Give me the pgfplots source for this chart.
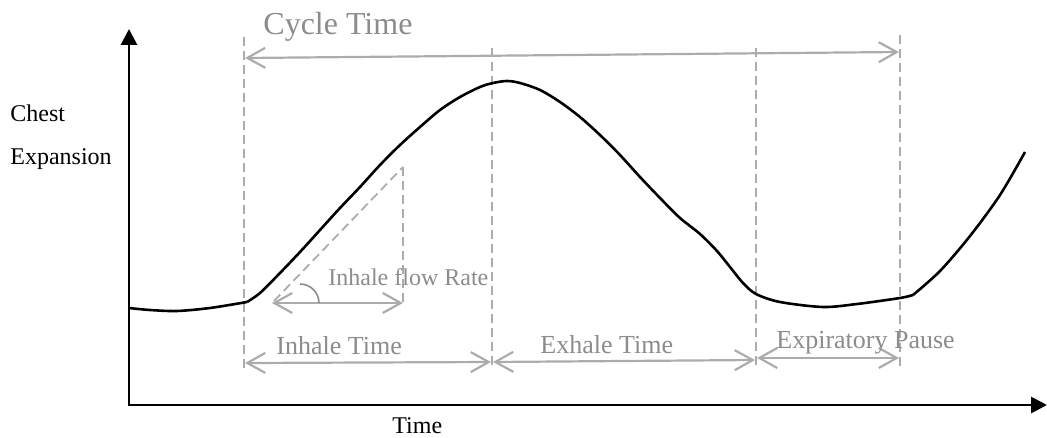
\documentclass[border=0pt]{standalone}
\usepackage{pgfplots}
\pgfplotsset{compat=1.18}
\usepackage{fontspec}
\setmainfont{Liberation Serif}
\usetikzlibrary{arrows.meta}
\definecolor{gl}{RGB}{172,172,172}
\definecolor{gt}{RGB}{140,140,140}
\begin{document}
\begin{tikzpicture}
\begin{axis}[
  width=523.5pt, height=219pt, scale only axis,
  xmin=0, xmax=1047, ymin=0, ymax=438, y dir=reverse,
  hide axis, clip=false,
]
% axes
\draw[line width=1.4pt, -{Triangle[length=8pt,width=8pt]}] (axis cs:129,405) -- (axis cs:129,29);
\draw[line width=1.4pt, -{Triangle[length=8pt,width=8pt]}] (axis cs:128,405) -- (axis cs:1047,405);
% dashed guide lines
\begin{scope}[gl, line width=0.9pt, dash pattern=on 4.5pt off 2.5pt]
\draw (axis cs:244,37) -- (axis cs:244,368);
\draw (axis cs:492,48) -- (axis cs:492,368);
\draw (axis cs:756,48) -- (axis cs:756,366);
\draw (axis cs:900,35) -- (axis cs:900,366);
\draw (axis cs:403,167) -- (axis cs:403,302);
\draw (axis cs:274,301) -- (axis cs:403,167);
\end{scope}
% arrows
\begin{scope}[gl, line width=1.1pt, {Straight Barb[length=9pt,width=10pt]}-{Straight Barb[length=9pt,width=10pt]}]
\draw (axis cs:245,58) -- (axis cs:899,52);
\draw (axis cs:245,363) -- (axis cs:491,362);
\draw (axis cs:493,362) -- (axis cs:755,360);
\draw (axis cs:757,358) -- (axis cs:899,358);
\draw (axis cs:272,303) -- (axis cs:403,303);
\end{scope}
\draw[gt, line width=0.8pt] (axis cs:300,284) arc[start angle=90, end angle=0, radius=9.5pt];
% curve
\addplot[black, line width=1.3pt, smooth, tension=0.5] coordinates {
(129,308) (150,310) (177,311) (210,308) (247,302)};
\addplot[black, line width=1.3pt, smooth, tension=0.5] coordinates {
(247,302) (260,293) (280,273) (300,252) (320,230) (340,208) (360,187) (380,165)
(400,145) (420,127) (440,110) (460,97) (480,87) (493,83) (507,81) (520,83)
(540,90) (560,102) (580,117) (600,135) (620,155) (640,177) (660,198) (680,218)
(700,234) (717,251) (730,267) (743,283) (756,294) (780,302) (823,307) (857,304)
(900,298) (913,295)};
\addplot[black, line width=1.3pt, smooth, tension=0.5] coordinates {
(913,295) (940,271) (970,236) (1000,195) (1025,152)};
% texts
\node[anchor=base west, inner sep=0, text=gt, font=\fontsize{16}{18}\selectfont] at (axis cs:263,35) {Cycle Time};
\node[anchor=base west, inner sep=0, font=\fontsize{12}{14}\selectfont] at (axis cs:10,122) {Chest};
\node[anchor=base west, inner sep=0, font=\fontsize{12}{14}\selectfont] at (axis cs:10,164) {Expansion};
\node[anchor=base west, inner sep=0, font=\fontsize{12}{14}\selectfont] at (axis cs:392,433) {Time};
\node[anchor=base west, inner sep=0, text=gt, font=\fontsize{13}{15}\selectfont] at (axis cs:276,354) {Inhale Time};
\node[anchor=base west, inner sep=0, text=gt, font=\fontsize{13}{15}\selectfont] at (axis cs:540,353) {Exhale Time};
\node[anchor=base west, inner sep=0, text=gt, font=\fontsize{13}{15}\selectfont] at (axis cs:776,348) {Expiratory Pause};
\node[anchor=base west, inner sep=0, text=gt, font=\fontsize{12}{14}\selectfont] at (axis cs:328,285) {Inhale flow Rate};
\coordinate (BL) at (axis cs:0,438);
\coordinate (TR) at (axis cs:1047,0);
\end{axis}
\pgfresetboundingbox
\useasboundingbox (BL) rectangle (TR);
\end{tikzpicture}
\end{document}
